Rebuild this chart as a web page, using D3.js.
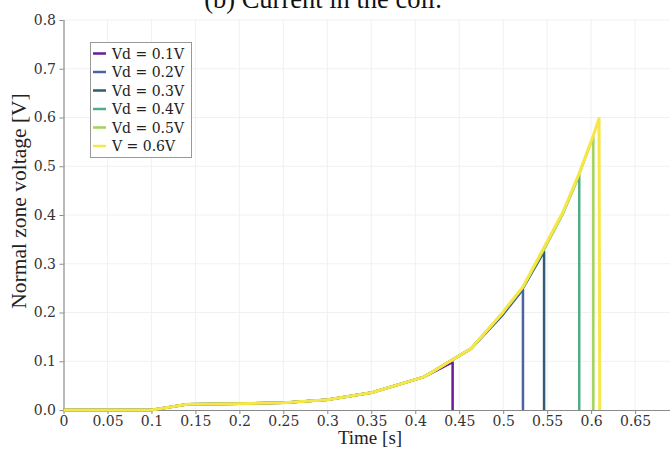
<!DOCTYPE html>
<html>
<head>
<meta charset="utf-8">
<script src="https://cdn.jsdelivr.net/npm/d3@7"></script>
<style>
  html, body { margin: 0; padding: 0; background: #fff; }
  svg { display: block; }
</style>
</head>
<body>
<svg id="chart" width="670" height="450"></svg>
<script>
// Normal zone voltage traces for each detection threshold
const seriesNames = ["Vd = 0.1V", "Vd = 0.2V", "Vd = 0.3V", "Vd = 0.4V", "Vd = 0.5V", "V = 0.6V"];
const seriesColors = ["#6a1b9a", "#4a64a0", "#2f5d78", "#4fae86", "#a2d45a", "#f6e648"];

const timeVd01 = [0, 0.1, 0.141, 0.2, 0.25, 0.3, 0.351, 0.41, 0.4425, 0.4425];
const voltVd01 = [0, 0, 0.012, 0.013, 0.015, 0.021, 0.036, 0.068, 0.098, 0];

const timeVd02 = [0, 0.1, 0.141, 0.2, 0.25, 0.3, 0.351, 0.41, 0.4635, 0.498, 0.5225, 0.5225];
const voltVd02 = [0, 0, 0.012, 0.013, 0.015, 0.021, 0.036, 0.068, 0.126, 0.192, 0.247, 0];

const timeVd03 = [0, 0.1, 0.141, 0.2, 0.25, 0.3, 0.351, 0.41, 0.4635, 0.498, 0.5225, 0.5465, 0.5465];
const voltVd03 = [0, 0, 0.012, 0.013, 0.015, 0.021, 0.036, 0.068, 0.126, 0.194, 0.25, 0.325, 0];

const timeVd04 = [0, 0.1, 0.141, 0.2, 0.25, 0.3, 0.351, 0.41, 0.4635, 0.498, 0.5225, 0.5465, 0.568, 0.5865, 0.5865];
const voltVd04 = [0, 0, 0.012, 0.013, 0.015, 0.021, 0.036, 0.068, 0.126, 0.196, 0.252, 0.33, 0.403, 0.482, 0];

const timeVd05 = [0, 0.1, 0.141, 0.2, 0.25, 0.3, 0.351, 0.41, 0.4635, 0.498, 0.5225, 0.5465, 0.568, 0.5865, 0.6025, 0.6025];
const voltVd05 = [0, 0, 0.012, 0.013, 0.015, 0.021, 0.036, 0.068, 0.126, 0.196, 0.252, 0.33, 0.404, 0.484, 0.561, 0];

const timeV06 = [0, 0.1, 0.141, 0.2, 0.25, 0.3, 0.351, 0.41, 0.4635, 0.498, 0.5225, 0.5465, 0.568, 0.5865, 0.6025, 0.609, 0.6098];
const voltV06 = [0, 0, 0.012, 0.013, 0.015, 0.021, 0.036, 0.068, 0.126, 0.197, 0.253, 0.334, 0.406, 0.486, 0.563, 0.598, 0];

const seriesTimes = [timeVd01, timeVd02, timeVd03, timeVd04, timeVd05, timeV06];
const seriesVolts = [voltVd01, voltVd02, voltVd03, voltVd04, voltVd05, voltV06];

const xTicks = [0, 0.05, 0.1, 0.15, 0.2, 0.25, 0.3, 0.35, 0.4, 0.45, 0.5, 0.55, 0.6, 0.65];
const yTicks = [0, 0.1, 0.2, 0.3, 0.4, 0.5, 0.6, 0.7, 0.8];

const svg = d3.select("#chart");
const plotLeft = 63.5, plotRight = 670, plotTop = 20, plotBottom = 410;

const x = d3.scaleLinear().domain([0, 0.6897]).range([plotLeft, plotRight]);
const y = d3.scaleLinear().domain([0, 0.8]).range([plotBottom, plotTop]);

// Caption above the frame (only its lower part falls inside the page)
svg.append("text")
  .attr("x", 323).attr("y", 8)
  .attr("text-anchor", "middle")
  .attr("font-family", "Liberation Serif, serif")
  .attr("font-size", 26.5)
  .attr("fill", "#111")
  .text("(b) Current in the coil.");

// Grid
const grid = svg.append("g").attr("stroke", "#f1f1f1").attr("stroke-width", 1);
grid.selectAll("line.v").data(xTicks.slice(1)).join("line")
  .attr("class", "v")
  .attr("x1", d => x(d)).attr("x2", d => x(d))
  .attr("y1", plotTop).attr("y2", plotBottom);
grid.selectAll("line.h").data(yTicks.slice(1)).join("line")
  .attr("class", "h")
  .attr("x1", plotLeft).attr("x2", plotRight)
  .attr("y1", d => y(d)).attr("y2", d => y(d));

// Axes
const xAxis = svg.append("g")
  .attr("transform", `translate(0,${plotBottom})`)
  .call(d3.axisBottom(x).tickValues(xTicks).tickSize(4).tickPadding(2)
    .tickFormat(d => d === 0 ? "0" : String(+d.toFixed(2))));
const yAxis = svg.append("g")
  .attr("transform", `translate(${plotLeft},0)`)
  .call(d3.axisLeft(y).tickValues(yTicks).tickSize(4).tickPadding(3.5)
    .tickFormat(d3.format(".1f")));

[xAxis, yAxis].forEach(a => {
  a.select(".domain").attr("stroke", "#8a8a8a").attr("stroke-width", 1.2);
  a.selectAll(".tick line").attr("stroke", "#8a8a8a");
  a.selectAll(".tick text")
    .attr("font-family", "DejaVu Serif, serif")
    .attr("font-size", 14)
    .attr("fill", "#333");
});
xAxis.select(".domain").attr("d", `M${plotLeft},0.5H${plotRight}`);
yAxis.select(".domain").attr("d", `M0.5,${plotBottom}V${plotTop}`);

// Axis titles
svg.append("text")
  .attr("x", 370).attr("y", 444)
  .attr("text-anchor", "middle")
  .attr("font-family", "Liberation Serif, serif")
  .attr("font-size", 19)
  .attr("fill", "#222")
  .text("Time [s]");
svg.append("text")
  .attr("transform", "translate(26,201) rotate(-90)")
  .attr("text-anchor", "middle")
  .attr("font-family", "Liberation Serif, serif")
  .attr("font-size", 21.5)
  .attr("fill", "#222")
  .text("Normal zone voltage [V]");

// Traces
const line = d3.line().x(d => x(d[0])).y(d => y(d[1]));
const traces = svg.append("g").attr("fill", "none").attr("stroke-linejoin", "round");
seriesNames.forEach((name, i) => {
  const pts = seriesTimes[i].map((t, j) => [t, seriesVolts[i][j]]);
  traces.append("path")
    .attr("d", line(pts))
    .attr("stroke", seriesColors[i])
    .attr("stroke-width", i === 5 ? 3 : 2.5);
});

// Legend
const lg = svg.append("g");
lg.append("rect")
  .attr("x", 90.5).attr("y", 42.5).attr("width", 101).attr("height", 115)
  .attr("fill", "#fff").attr("stroke", "#999").attr("stroke-width", 1);
seriesNames.forEach((name, i) => {
  const yy = 53.5 + i * 18.5;
  lg.append("line")
    .attr("x1", 93).attr("x2", 106).attr("y1", yy).attr("y2", yy)
    .attr("stroke", seriesColors[i]).attr("stroke-width", 2.5);
  lg.append("text")
    .attr("x", 112).attr("y", yy + 5)
    .attr("font-family", "DejaVu Serif, serif")
    .attr("font-size", 14)
    .attr("fill", "#222")
    .text(name);
});
</script>
</body>
</html>
